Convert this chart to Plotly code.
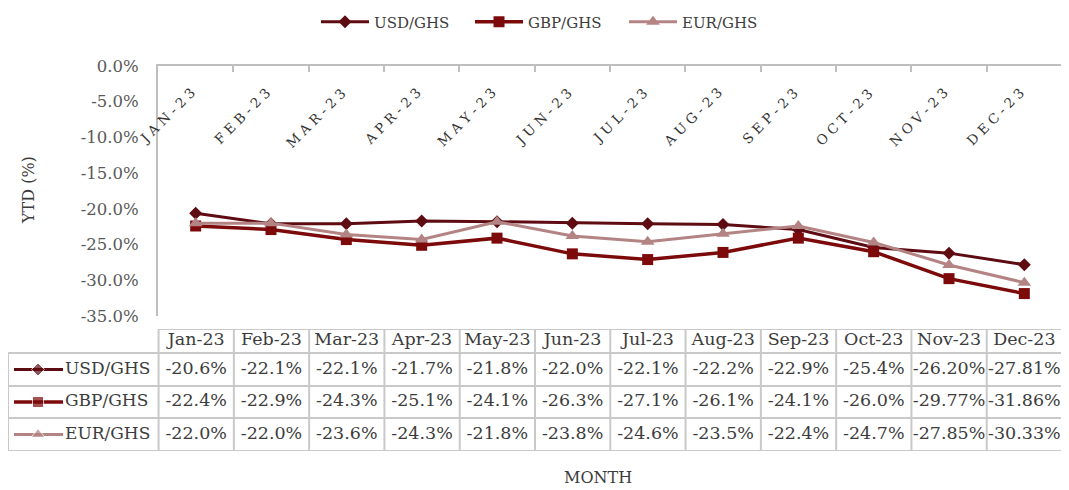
import plotly.graph_objects as go

# ---------------- data ----------------
months = ["Jan-23", "Feb-23", "Mar-23", "Apr-23", "May-23", "Jun-23",
          "Jul-23", "Aug-23", "Sep-23", "Oct-23", "Nov-23", "Dec-23"]
series_names = ["USD/GHS", "GBP/GHS", "EUR/GHS"]
usd_ghs = [-20.6, -22.1, -22.1, -21.7, -21.8, -22.0, -22.1, -22.2, -22.9, -25.4, -26.20, -27.81]
gbp_ghs = [-22.4, -22.9, -24.3, -25.1, -24.1, -26.3, -27.1, -26.1, -24.1, -26.0, -29.77, -31.86]
eur_ghs = [-22.0, -22.0, -23.6, -24.3, -21.8, -23.8, -24.6, -23.5, -22.4, -24.7, -27.85, -30.33]
usd_txt = ["-20.6%", "-22.1%", "-22.1%", "-21.7%", "-21.8%", "-22.0%", "-22.1%", "-22.2%", "-22.9%", "-25.4%", "-26.20%", "-27.81%"]
gbp_txt = ["-22.4%", "-22.9%", "-24.3%", "-25.1%", "-24.1%", "-26.3%", "-27.1%", "-26.1%", "-24.1%", "-26.0%", "-29.77%", "-31.86%"]
eur_txt = ["-22.0%", "-22.0%", "-23.6%", "-24.3%", "-21.8%", "-23.8%", "-24.6%", "-23.5%", "-22.4%", "-24.7%", "-27.85%", "-30.33%"]
y_ticks = [0, -5, -10, -15, -20, -25, -30, -35]
y_ticktext = ["0.0%", "-5.0%", "-10.0%", "-15.0%", "-20.0%", "-25.0%", "-30.0%", "-35.0%"]

# ---------------- styles ----------------
# the page body has an 8px default margin: the figure starts 8px in from the window corner
OFF = 8
W, H = 1069 - OFF, 490 - OFF
FONT = "DejaVu Serif"
TXT = "#3c3c3c"
GRID = "#c9c9c9"
AXIS = "#bfbfbf"
colors = ["#5e0b12", "#7d0a0a", "#b48484"]
symbols = ["diamond", "square", "triangle-up"]
msizes = [10, 11, 12]
lwidths = [3, 3.5, 3]
TBL_SIZE = 17.5


def px(x):
    """screen x pixel -> paper fraction"""
    return min(1.0, max(0.0, (x - OFF) / W))


def py(y):
    """screen y pixel -> paper fraction"""
    return min(1.0, max(0.0, 1 - (y - OFF) / H))


values = [usd_ghs, gbp_ghs, eur_ghs]
texts = [usd_txt, gbp_txt, eur_txt]

fig = go.Figure()

# main lines
for name, vals, c, s, ms, lw in zip(series_names, values, colors, symbols, msizes, lwidths):
    fig.add_trace(go.Scatter(
        x=months, y=vals, name=name, mode="lines+markers",
        line=dict(color=c, width=lw),
        marker=dict(symbol=s, size=ms, color=c),
        xaxis="x", yaxis="y"))

# table layout (row edges in table units, top=0)
row_edges = [0, 24, 57, 89, 122]
row_mid = [(row_edges[i] + row_edges[i + 1]) / 2 for i in range(4)]

# header texts
fig.add_trace(go.Scatter(
    x=months, y=[row_mid[0]] * len(months), mode="text", text=months,
    textfont=dict(family=FONT, size=TBL_SIZE, color=TXT),
    showlegend=False, hoverinfo="skip", xaxis="x2", yaxis="y2"))
# value texts
for r, tx in enumerate(texts):
    fig.add_trace(go.Scatter(
        x=months, y=[row_mid[r + 1]] * len(months), mode="text", text=tx,
        textfont=dict(family=FONT, size=TBL_SIZE, color=TXT),
        showlegend=False, hoverinfo="skip", xaxis="x2", yaxis="y2"))

# left column legend keys
for r, (name, c, s, ms, lw) in enumerate(zip(series_names, colors, symbols, msizes, lwidths)):
    yy = row_mid[r + 1]
    fig.add_trace(go.Scatter(
        x=[6, 30, 55], y=[yy, yy, yy], mode="lines+markers",
        line=dict(color=c, width=lw),
        marker=dict(symbol=s, size=[0, ms, 0], color=c),
        showlegend=False, hoverinfo="skip", xaxis="x3", yaxis="y2"))
    fig.add_trace(go.Scatter(
        x=[57], y=[yy], mode="text", text=[name], textposition="middle right",
        textfont=dict(family=FONT, size=17, color=TXT),
        showlegend=False, hoverinfo="skip", xaxis="x3", yaxis="y2"))

shapes = []
# table grid: horizontal lines
for i, e in enumerate(row_edges):
    x0 = -0.5 if i == 0 else -2.5
    shapes.append(dict(type="line", xref="x2", yref="y2", x0=x0, x1=11.5, y0=e, y1=e,
                       line=dict(color=GRID, width=2)))
# vertical lines
for k in range(13):
    xv = k - 0.5
    shapes.append(dict(type="line", xref="x2", yref="y2", x0=xv, x1=xv,
                       y0=row_edges[0], y1=row_edges[-1], line=dict(color=GRID, width=2)))
shapes.append(dict(type="line", xref="x2", yref="y2", x0=-2.5, x1=-2.5,
                   y0=row_edges[1], y1=row_edges[-1], line=dict(color=GRID, width=2)))

# rotated month labels along the top axis
annotations = []
for m in months:
    annotations.append(dict(
        text=" ".join(m.upper()), x=m, xref="x", y=py(82), yref="paper",
        xanchor="right", yanchor="top", xshift=5, textangle=-45, showarrow=False,
        font=dict(family=FONT, size=13.5, color="#333333")))
annotations += [
    dict(text="YTD (%)", xref="paper", yref="paper", x=px(28), y=py(190),
         xanchor="center", yanchor="middle",
         textangle=-90, showarrow=False, font=dict(family=FONT, size=16, color=TXT)),
    dict(text="MONTH", xref="paper", yref="paper", x=px(598), y=py(477),
         xanchor="center", yanchor="middle",
         showarrow=False, font=dict(family=FONT, size=16, color=TXT)),
]

RIGHT = 1062

fig.update_layout(
    width=W, height=H,
    margin=dict(l=0, r=0, t=0, b=0, autoexpand=False),
    paper_bgcolor="white", plot_bgcolor="rgba(0,0,0,0)",
    font=dict(family=FONT, color=TXT),
    shapes=shapes,
    annotations=annotations,
    showlegend=True,
    legend=dict(orientation="h", x=px(316), xanchor="left", y=py(22), yanchor="middle",
                font=dict(family=FONT, size=15, color=TXT), itemwidth=48,
                entrywidth=91, entrywidthmode="pixels",
                tracegroupgap=0, bgcolor="rgba(0,0,0,0)"),
    xaxis=dict(domain=[px(158), px(RIGHT)], type="category", categoryarray=months,
               range=[-0.5, 11.5], side="top", anchor="y",
               showticklabels=False,
               tickson="boundaries", ticks="inside", ticklen=6, tickcolor=AXIS, tickwidth=1.5,
               showline=True, linecolor=AXIS, linewidth=2, mirror=False,
               showgrid=False, zeroline=False, fixedrange=True, automargin=False),
    yaxis=dict(domain=[py(316), py(66)], range=[-35, 0], anchor="x",
               tickmode="array", tickvals=y_ticks, ticktext=y_ticktext,
               tickfont=dict(family=FONT, size=16.5, color="#595959"),
               ticks="", ticklabelstandoff=14,
               showline=True, linecolor=AXIS, linewidth=2,
               showgrid=False, zeroline=False, fixedrange=True, automargin=False),
    xaxis2=dict(domain=[px(8), px(RIGHT)], type="category", categoryarray=months,
                range=[-2.5, 11.5], anchor="y2", visible=False, fixedrange=True),
    yaxis2=dict(domain=[py(451), py(329)], range=[row_edges[-1], row_edges[0]], anchor="x2",
                visible=False, fixedrange=True),
    xaxis3=dict(domain=[px(8), px(158)], range=[0, 150], anchor="y2", visible=False,
                fixedrange=True),
)

fig.write_html("out.html")
